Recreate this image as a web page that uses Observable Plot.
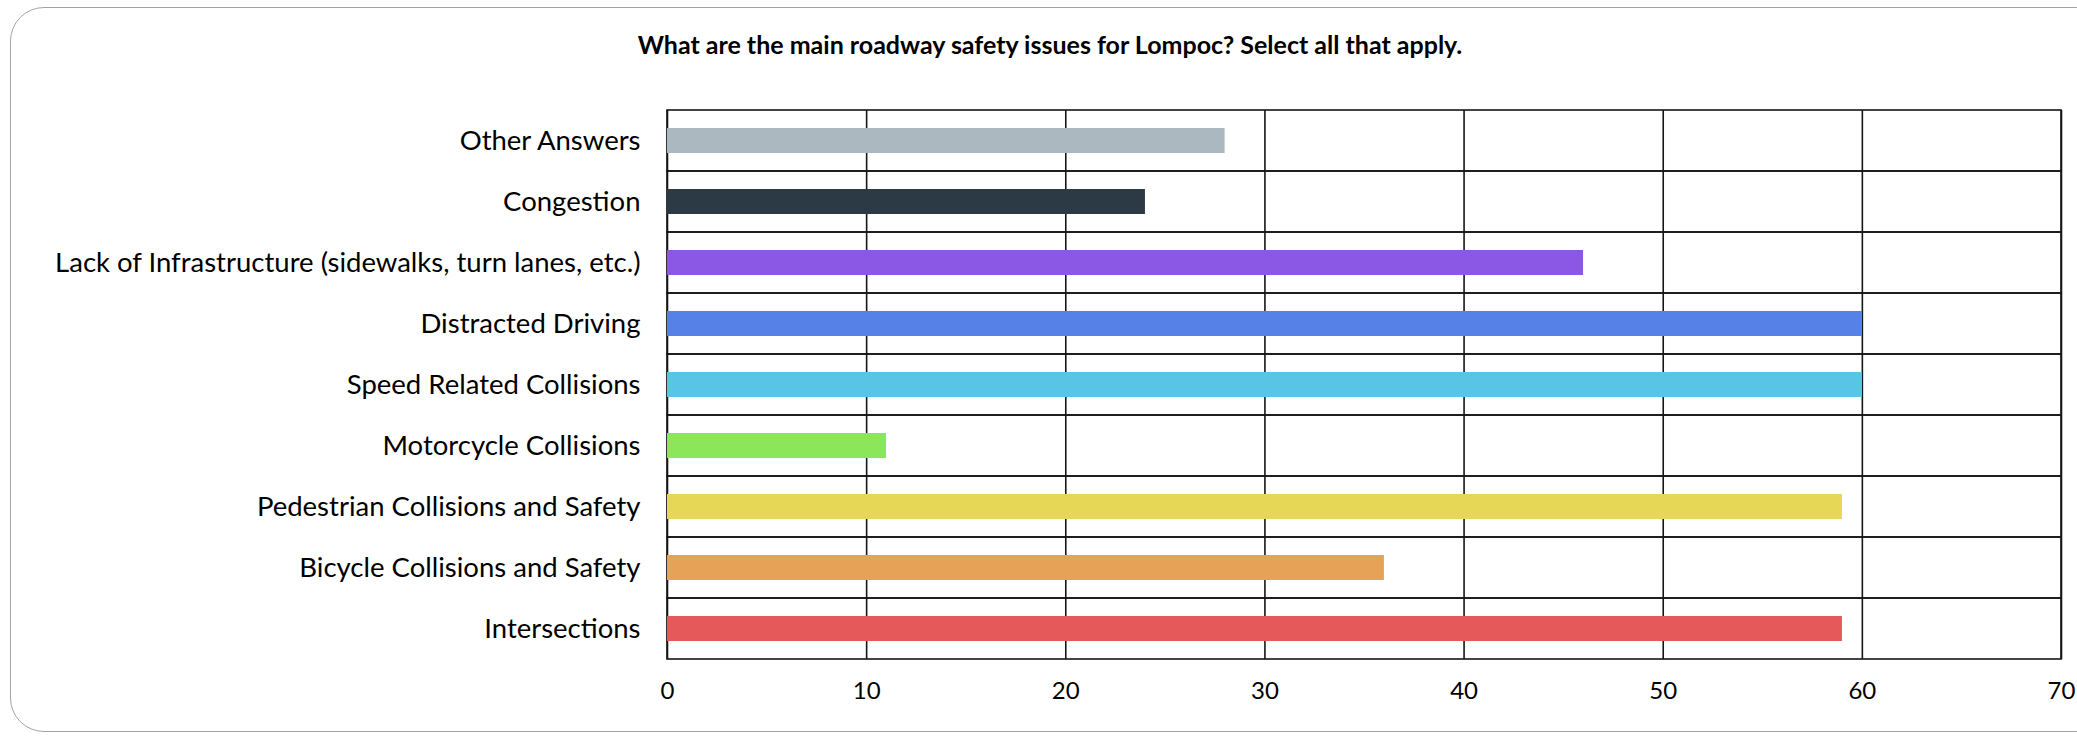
<!DOCTYPE html>
<html>
<head>
<meta charset="utf-8">
<script src="https://cdn.jsdelivr.net/npm/d3@7"></script>
<script src="https://cdn.jsdelivr.net/npm/@observablehq/plot@0.6"></script>
<style>
  html, body { margin: 0; padding: 0; background: #fff; overflow: hidden; }
  #wrap { position: relative; width: 2077px; height: 737px; overflow: hidden; font-family: Lato, "Open Sans", sans-serif; }
  #frame { position: absolute; left: 10px; top: 7px; width: 2100px; height: 725px; border: 1.5px solid #a3a3a3; border-radius: 34px; box-sizing: border-box; }
  #title { position: absolute; left: 0; top: 29px; width: 2100px; text-align: center; font-weight: bold; font-size: 25px; line-height: 30px; color: #000; }
  #chart { position: absolute; left: 0; top: 0; }
</style>
</head>
<body>
<div id="wrap">
  <div id="frame"></div>
  <div id="title">What are the main roadway safety issues for Lompoc? Select all that apply.</div>
  <div id="chart"></div>
</div>
<script>
// Survey answers, listed top to bottom as shown
const categories = [
  "Other Answers",
  "Congestion",
  "Lack of Infrastructure (sidewalks, turn lanes, etc.)",
  "Distracted Driving",
  "Speed Related Collisions",
  "Motorcycle Collisions",
  "Pedestrian Collisions and Safety",
  "Bicycle Collisions and Safety",
  "Intersections"
];
const counts = [28, 24, 46, 60, 60, 11, 59, 36, 59];
const barColors = ["#acb8bf", "#2c3a45", "#8a58e5", "#5681e6", "#58c5e5", "#8be659", "#e6d757", "#e6a257", "#e6595a"];
const xTicks = [0, 10, 20, 30, 40, 50, 60, 70];

const rows = categories.map((issue, i) => ({issue, count: counts[i]}));
const gridColor = "#161616";

const chart = Plot.plot({
  width: 2077,
  height: 737,
  marginTop: 110,
  marginBottom: 78,
  marginLeft: 667,
  marginRight: 16,
  style: {fontFamily: "Lato, 'Open Sans', sans-serif", background: "transparent", color: "#000"},
  x: {domain: [0, 70], ticks: xTicks},
  y: {domain: categories, padding: 0},
  color: {domain: categories, range: barColors},
  marks: [
    // one outlined cell per answer row
    Plot.barX(categories, {x1: 0, x2: 70, y: d => d, fill: "none", stroke: gridColor, strokeWidth: 1.6}),
    Plot.ruleX(xTicks, {stroke: gridColor, strokeWidth: 1.6}),
    Plot.barX(rows, {x: "count", y: "issue", fill: "issue", insetTop: 18, insetBottom: 18}),
    Plot.axisX({ticks: xTicks, tickSize: 0, tickPadding: 22, fontSize: 24, label: null}),
    Plot.axisY({tickSize: 0, tickPadding: 27, fontSize: 27.5, label: null})
  ]
});
document.getElementById("chart").appendChild(chart);
</script>
</body>
</html>
